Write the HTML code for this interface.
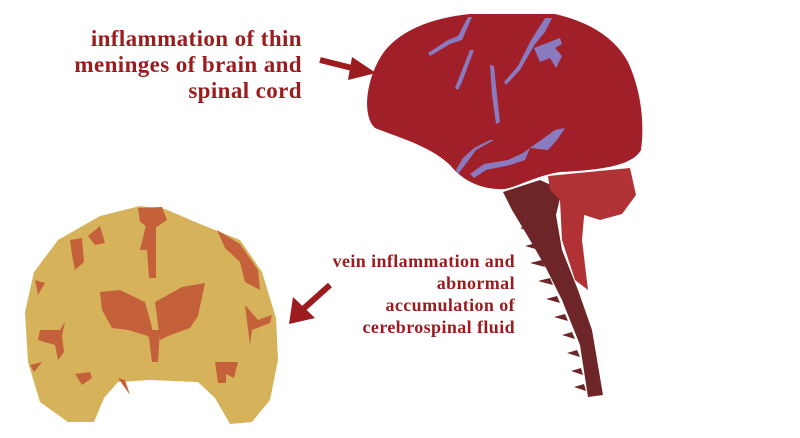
<!DOCTYPE html>
<html><head><style>
body{margin:0;background:#fff;width:800px;height:438px;overflow:hidden;position:relative;font-family:"Liberation Serif",serif;}
.t{position:absolute;color:#9b1b1e;font-weight:bold;text-align:right;white-space:nowrap;}
</style></head><body>
<svg width="800" height="438" style="position:absolute;left:0;top:0">
<!-- left coronal brain -->
<path d="M140,206 L165,209 L200,224 L240,240 L262,272 L276,318 L278,360 L270,400 L252,422 L230,424 L215,398 L198,382 L150,380 L118,382 L104,398 L94,422 L68,422 L40,402 L28,362 L25,312 L34,272 L58,240 L100,216 Z" fill="#d6b35a"/>
<g fill="#c4613a">
<path d="M100,292 L120,290 L145,302 L150,320 L155,340 L145,335 L128,330 L112,328 L102,310 Z"/>
<path d="M155,302 L182,287 L205,283 L198,316 L190,328 L168,336 L160,340 Z"/>
<path d="M148,330 L160,330 L158,362 L152,362 Z"/>
<path d="M138,208 L162,207 L167,220 L152,230 L140,222 Z"/>
<path d="M146,225 L156,225 L156,278 L149,278 L147,250 L140,250 Z"/>
<path d="M217,230 L240,244 L258,270 L260,290 L245,282 L240,262 L225,248 Z"/>
<path d="M70,240 L82,238 L84,262 L75,270 L72,255 Z"/>
<path d="M88,236 L100,226 L105,243 L95,245 Z"/>
<path d="M40,330 L60,330 L65,322 L62,336 L64,352 L58,360 L55,345 L38,340 Z"/>
<path d="M245,305 L258,320 L272,315 L270,323 L252,330 L250,345 Z"/>
<path d="M215,362 L238,362 L234,378 L226,374 L226,383 L218,383 Z"/>
<path d="M75,374 L90,372 L92,378 L82,385 Z"/>
<path d="M118,378 L130,395 L125,380 Z"/>
<path d="M30,365 L42,362 L34,372 Z"/>
<path d="M35,280 L45,283 L38,295 Z"/>
</g>
<!-- red strip behind cord -->
<path d="M560,200 L585,205 L582,240 L588,290 L575,280 L562,240 Z" fill="#b03234"/>
<!-- spinal cord -->
<path d="M503,192 L540,180 L562,190 L556,215 L562,250 L578,290 L592,330 L603,395 L588,397 L580,345 L562,300 L546,268 L530,240 L512,210 Z" fill="#6e2528"/>
<g fill="#6e2528">
<path d="M530,225 L520,228 L533,233 Z"/><path d="M536,243 L525,246 L539,250 Z"/><path d="M542,260 L530,263 L545,267 Z"/><path d="M550,278 L538,281 L553,285 Z"/><path d="M557,296 L546,299 L560,303 Z"/><path d="M565,314 L554,317 L568,321 Z"/><path d="M572,332 L562,335 L575,339 Z"/><path d="M577,350 L567,353 L580,357 Z"/><path d="M581,368 L571,371 L583,375 Z"/><path d="M584,384 L574,387 L586,391 Z"/>
</g>
<!-- cerebellum -->
<path d="M548,176 L630,168 L636,195 L622,214 L600,220 L575,212 L562,202 L550,190 Z" fill="#b03234"/>
<!-- cerebrum -->
<path d="M380,58 C395,32 430,18 470,14 L555,14 C590,22 615,38 628,62 C640,88 645,120 641,150 C632,166 600,170 560,172 C535,176 520,186 505,189 C480,190 462,180 450,165 C430,146 400,138 375,128 C362,116 366,82 380,58 Z" fill="#a11f28"/>
<g fill="#8a7ac0">
<path d="M468,17 L472,17 L462,40 L450,44 L430,56 L428,53 L448,40 L458,36 Z"/>
<path d="M470,50 L474,50 L462,82 L458,90 L455,88 Z"/>
<path d="M490,65 L494,66 L497,95 L500,122 L496,124 L492,95 Z"/>
<path d="M545,18 L552,18 L545,32 L535,44 L520,70 L506,85 L504,82 L518,66 L530,42 Z"/>
<path d="M534,48 L560,38 L562,44 L555,48 L562,56 L556,68 L550,58 L540,62 Z"/>
<path d="M555,130 L565,128 L557,140 L548,150 L530,148 L525,160 L510,165 L486,170 L474,178 L470,174 L484,164 L508,160 L523,153 Z"/>
<path d="M490,140 L494,140 L476,150 L465,165 L458,174 L456,170 L463,158 L474,148 Z"/>
</g>
<!-- arrows -->
<g stroke="#9b1b1e" stroke-width="6" fill="#9b1b1e">
<line x1="320" y1="60" x2="360" y2="70"/>
<line x1="330" y1="285" x2="302" y2="310"/>
</g>
<path d="M352,57 L376,73 L348,80 Z" fill="#9b1b1e"/>
<path d="M293,297 L289,324 L315,318 Z" fill="#9b1b1e"/>
</svg>
<div class="t" style="right:498px;top:26px;font-size:23px;line-height:26px;letter-spacing:0.4px;">inflammation of thin<br>meninges of brain and<br>spinal cord</div>
<div class="t" style="right:285px;top:250px;font-size:18px;line-height:22px;letter-spacing:0.4px;">vein inflammation and<br>abnormal<br>accumulation of<br>cerebrospinal fluid</div>
</body></html>
